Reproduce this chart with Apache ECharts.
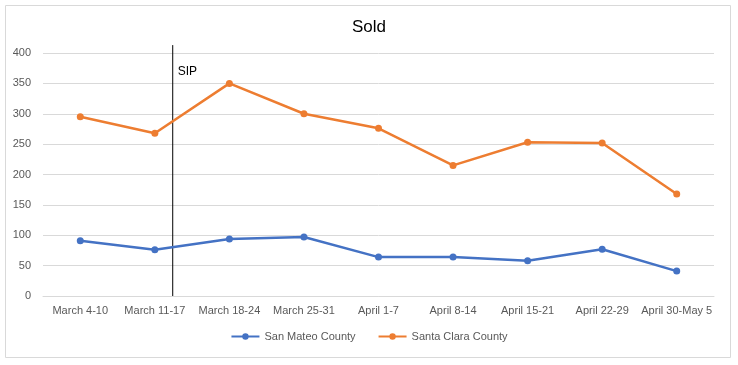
<!DOCTYPE html>
<html><head><meta charset="utf-8">
<script src="https://cdn.jsdelivr.net/npm/echarts@6/dist/echarts.min.js"></script>
<style>html,body{margin:0;padding:0;background:#fff}#c{width:738px;height:365px}</style>
</head><body><div id="c"></div>
<script>
const categories = ['March 4-10','March 11-17','March 18-24','March 25-31','April 1-7','April 8-14','April 15-21','April 22-29','April 30-May 5'];
const sanMateo = [91, 76, 94, 97, 64, 64, 58, 77, 41];
const santaClara = [295, 268, 350, 300, 276, 215, 253, 252, 168];
const yTicks = {min: 0, max: 400, interval: 50};
const sipPosition = 1.24; // category index position of SIP marker
const sipLine = [[sipPosition, 0], [sipPosition, 413]];
const sipLabel = 'SIP';

const chart = echarts.init(document.getElementById('c'), null, {renderer: 'canvas'});
const font = 'Liberation Sans, Noto Sans, sans-serif';
chart.setOption({
  animation: false,
  title: {text: 'Sold', left: 'center', top: 14, textStyle: {fontFamily: font, fontSize: 17, fontWeight: 'normal', color: '#000'}},
  graphic: [{type: 'rect', shape: {x: 5.5, y: 5.5, width: 725, height: 352}, style: {fill: 'none', stroke: '#d9d9d9', lineWidth: 1}}],
  grid: {left: 43, right: 24, top: 53, bottom: 69},
  legend: {bottom: 18, left: 'center', itemWidth: 28, itemHeight: 8, itemGap: 22,
    textStyle: {fontFamily: font, fontSize: 11, color: '#595959'},
    data: ['San Mateo County', 'Santa Clara County']},
  xAxis: [
    {type: 'category', data: categories, boundaryGap: true,
     axisLine: {lineStyle: {color: '#d9d9d9'}}, axisTick: {show: false},
     axisLabel: {fontFamily: font, fontSize: 11, color: '#595959', margin: 9, interval: 0}},
    {type: 'value', min: -0.5, max: categories.length - 0.5, show: false}
  ],
  yAxis: {type: 'value', min: yTicks.min, max: yTicks.max, interval: yTicks.interval,
    axisLine: {show: false}, axisTick: {show: false},
    splitLine: {lineStyle: {color: '#d9d9d9'}},
    axisLabel: {fontFamily: font, fontSize: 11, color: '#595959', margin: 12}},
  series: [
    {name: 'San Mateo County', type: 'line', data: sanMateo, color: '#4472C4',
     symbol: 'circle', symbolSize: 7, lineStyle: {width: 2.5}},
    {name: 'Santa Clara County', type: 'line', data: santaClara, color: '#ED7D31',
     symbol: 'circle', symbolSize: 7, lineStyle: {width: 2.5}},
    {name: 'SIP', type: 'line', xAxisIndex: 1, data: sipLine, silent: true, clip: false,
     symbol: 'none', color: '#000', lineStyle: {color: '#000', width: 1}, z: 1,
     markPoint: {symbol: 'circle', symbolSize: 0, silent: true,
       label: {show: true, position: 'right', distance: 5, formatter: sipLabel, fontFamily: font, fontSize: 12, color: '#000'},
       data: [{coord: [sipPosition, 370]}]}}
  ]
});
</script></body></html>
